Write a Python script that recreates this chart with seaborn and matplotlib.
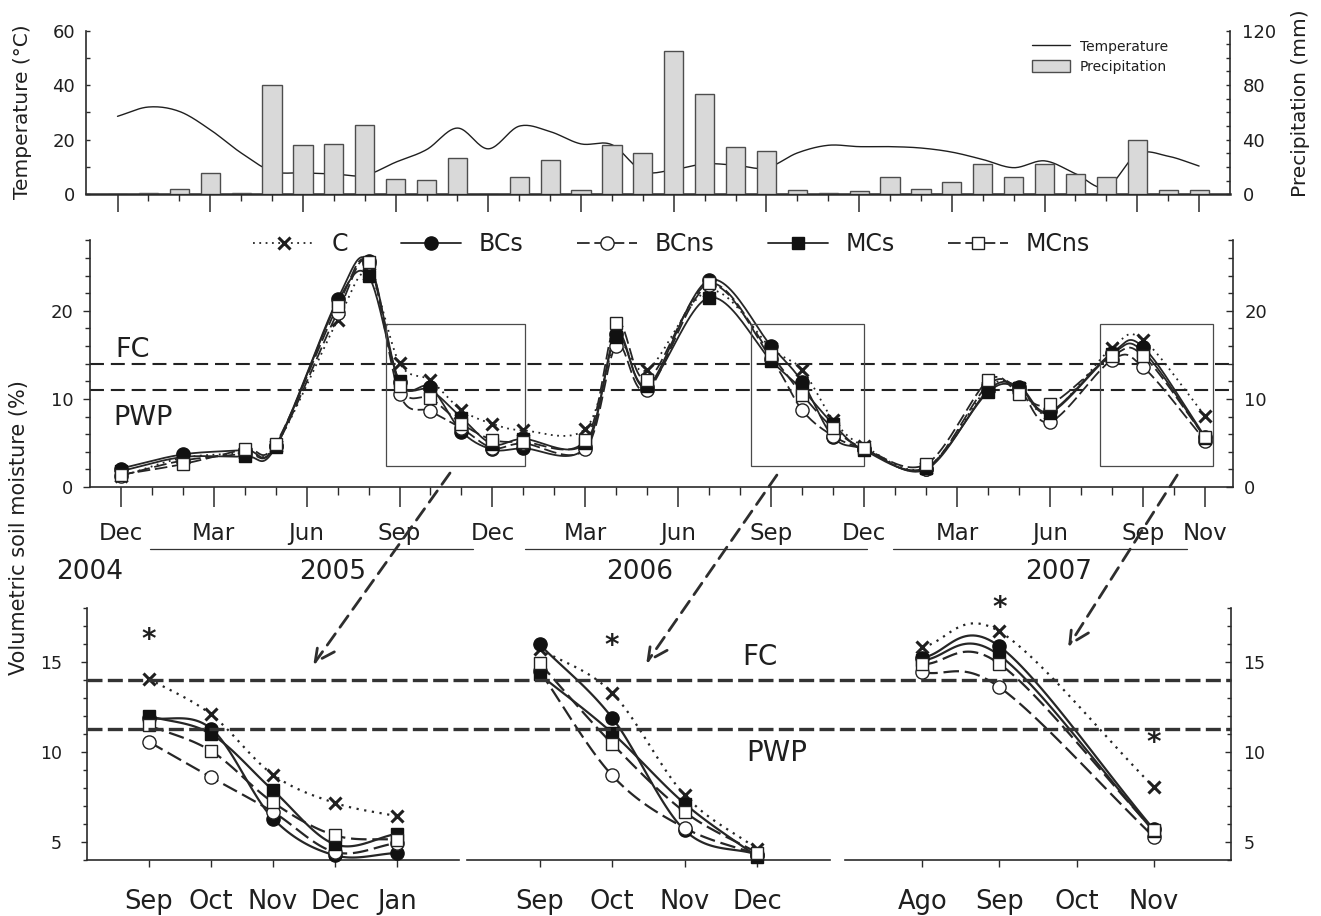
import numpy as np
import matplotlib
matplotlib.use("Agg")
import matplotlib.pyplot as plt
import seaborn as sns
from matplotlib.lines import Line2D
from matplotlib.patches import Patch, Rectangle, ConnectionPatch
from matplotlib.transforms import blended_transform_factory
from matplotlib.ticker import FixedLocator, MultipleLocator, NullFormatter

# ---------------- climate, monthly (month 0 = December 2004) ----------------
clim_month = np.arange(36)
temperature = [28.6, 32.0, 30.4, 23.7, 15.2, 8.5, 7.9, 7.5, 7.0, 11.8, 16.4, 24.3,
               16.7, 25.0, 23.0, 18.5, 18.2, 8.5, 9.1, 11.2, 10.7, 9.7, 15.2, 18.0,
               17.5, 17.5, 17.0, 15.5, 12.8, 9.8, 12.3, 7.6, 2.6, 14.8, 14.0, 10.4]
precipitation = [0, 1, 4, 16, 1, 80, 36.5, 37, 50.5, 11.5, 10.5, 26.5,
                 0, 12.5, 25, 3.5, 36, 30.5, 105, 73.5, 35, 31.5, 3, 1,
                 2.5, 12.5, 4, 9, 22.5, 12.5, 22, 15, 12.5, 40, 3.5, 3]

# ---------------- soil moisture sampling (month 0 = December 2004) ----------------
sample_month = [0, 2, 4, 5, 7, 8, 9, 10, 11, 12, 13, 15, 16, 17, 19,
                21, 22, 23, 24, 26, 28, 29, 30, 32, 33, 35]
moist_C    = [1.2, 3.3, 3.9, 4.7, 18.9, 24.2, 14.07, 12.09, 8.74, 7.17, 6.43, 6.6, 16.3, 13.3, 22.3,
              15.74, 13.28, 7.6, 4.6, 2.2, 11.3, 11.2, 8.4, 15.83, 16.7, 8.05]
moist_BCs  = [2.1, 3.7, 4.2, 4.7, 21.3, 25.6, 11.9, 11.3, 6.3, 4.26, 4.39, 4.5, 17.4, 11.4, 23.5,
              15.98, 11.9, 5.65, 4.3, 2.0, 11.0, 11.4, 8.6, 15.24, 15.87, 5.7]
moist_BCns = [1.3, 3.0, 3.8, 4.6, 19.8, 25.4, 10.56, 8.6, 6.67, 4.44, 4.95, 4.3, 16.0, 11.0, 22.9,
              14.5, 8.7, 5.78, 4.3, 2.1, 11.6, 11.0, 7.4, 14.44, 13.6, 5.28]
moist_MCs  = [1.8, 3.4, 3.5, 4.5, 21.0, 23.9, 12.0, 11.0, 7.87, 4.87, 5.46, 5.0, 17.0, 11.5, 21.5,
              14.31, 11.06, 7.13, 4.17, 2.2, 10.8, 11.2, 8.45, 15.1, 15.37, 5.6]
moist_MCns = [1.4, 2.6, 4.3, 4.9, 20.5, 25.5, 11.48, 10.06, 7.2, 5.37, 5.13, 5.3, 18.6, 12.2, 23.1,
              14.94, 10.46, 6.67, 4.39, 2.6, 12.1, 10.6, 9.4, 14.87, 14.9, 5.65]

series_names = ["C", "BCs", "BCns", "MCs", "MCns"]
series_values = [moist_C, moist_BCs, moist_BCns, moist_MCs, moist_MCns]

major_months = [0, 3, 6, 9, 12, 15, 18, 21, 24, 27, 30, 33, 35]
major_labels = ["Dec", "Mar", "Jun", "Sep", "Dec", "Mar", "Jun", "Sep", "Dec", "Mar", "Jun", "Sep", "Nov"]
year_labels = ["2004", "2005", "2006", "2007"]

field_capacity = 14.0
wilting_point_overview = 11.0
wilting_point_detail = 11.3

# detail windows: first sampled month and month labels
window_start = [9, 21, 32]
window_labels = [["Sep", "Oct", "Nov", "Dec", "Jan"],
                 ["Sep", "Oct", "Nov", "Dec"],
                 ["Ago", "Sep", "Oct", "Nov"]]
# significance marks: (window, month offset, height)
signif_marks = [(0, 0, 16.2), (1, 1, 15.9), (2, 1, 18.0), (2, 3, 10.5)]

INK = "#1f1f1f"
LINE = "#262626"

styles = {
    "C":    dict(ls=(0, (1, 2.5)), marker="x", mfc=INK, mec=INK, ms=8.5, mew=2.2),
    "BCs":  dict(ls="-", marker="o", mfc="#111111", mec="#111111", ms=9.5, mew=1.0),
    "BCns": dict(ls=(0, (7, 2.6)), marker="o", mfc="white", mec="#222222", ms=9.5, mew=1.0),
    "MCs":  dict(ls="-", marker="s", mfc="#111111", mec="#111111", ms=8.5, mew=1.0),
    "MCns": dict(ls=(0, (7, 2.6)), marker="s", mfc="white", mec="#222222", ms=8.5, mew=1.0),
}


def smooth_curve(x, y, per=24):
    """Sample a Catmull-Rom curve through the points (x, y) for a smooth line."""
    P = np.column_stack([np.asarray(x, float), np.asarray(y, float)])
    n = len(P)
    T = np.zeros_like(P)
    T[0] = P[1] - P[0]
    T[-1] = P[-1] - P[-2]
    if n > 2:
        T[1:-1] = (P[2:] - P[:-2]) / 2.0
    parts = []
    for i in range(n - 1):
        t = np.linspace(0, 1, per, endpoint=(i == n - 2))[:, None]
        h00 = 2 * t ** 3 - 3 * t ** 2 + 1
        h10 = t ** 3 - 2 * t ** 2 + t
        h01 = -2 * t ** 3 + 3 * t ** 2
        h11 = t ** 3 - t ** 2
        parts.append(h00 * P[i] + h10 * T[i] + h01 * P[i + 1] + h11 * T[i + 1])
    C = np.vstack(parts)
    return C[:, 0], C[:, 1]


sns.set_style("ticks")
plt.rcParams.update({
    "font.family": ["DejaVu Sans"],
    "axes.edgecolor": "#2b2b2b",
    "axes.linewidth": 1.2,
    "xtick.color": "#2b2b2b",
    "ytick.color": "#2b2b2b",
    "xtick.labelcolor": INK,
    "ytick.labelcolor": INK,
    "text.color": INK,
})

fig = plt.figure(figsize=(13.21, 9.16), dpi=100)

# ======================= climate panel =======================
ax_t = fig.add_axes([0.0651, 0.7877, 0.8660, 0.1790])
ax_p = ax_t.twinx()

tx, ty = smooth_curve(clim_month, temperature, 20)
sns.lineplot(x=tx, y=ty, ax=ax_t, color=INK, lw=1.0, sort=False, estimator=None)
sns.barplot(x=clim_month, y=precipitation, native_scale=True, width=0.62, color="#d9d9d9",
            saturation=1, edgecolor="#4d4d4d", linewidth=1.0, errorbar=None, ax=ax_p)

for a in (ax_t, ax_p):
    a.set_xlim(-1.02, 36.0)
    a.set_xlabel("")
    a.set_ylabel("")
ax_t.set_ylim(0, 60)
ax_p.set_ylim(0, 120)
ax_t.yaxis.set_major_locator(FixedLocator([0, 20, 40, 60]))
ax_t.yaxis.set_minor_locator(MultipleLocator(10))
ax_p.yaxis.set_major_locator(FixedLocator([0, 40, 80, 120]))
ax_p.yaxis.set_minor_locator(MultipleLocator(10))
ax_t.xaxis.set_major_locator(FixedLocator(major_months))
ax_t.xaxis.set_minor_locator(FixedLocator([m for m in range(36) if m not in major_months]))
ax_t.xaxis.set_major_formatter(NullFormatter())
ax_t.tick_params(axis="x", which="major", direction="out", length=13, width=1.1)
ax_t.tick_params(axis="x", which="minor", direction="out", length=5, width=1.0)
ax_t.tick_params(axis="y", which="both", direction="in", length=3, width=1.0, labelsize=13, pad=8)
ax_p.tick_params(axis="y", which="both", direction="in", length=3, width=1.0, labelsize=13, pad=9)
ax_t.spines["top"].set_visible(False)
ax_t.spines["right"].set_visible(False)
for s in ("top", "left", "bottom"):
    ax_p.spines[s].set_visible(False)
ax_t.spines["bottom"].set_linewidth(1.8)

fig.text(22 / 1321, 1 - 112 / 916, "Temperature (°C)", rotation=90, ha="center", va="center", fontsize=14.5)
fig.text(1301 / 1321, 1 - 103 / 916, "Precipitation (mm)", rotation=90, ha="center", va="center", fontsize=14.5)

clim_handles = [Line2D([], [], color=INK, lw=1.0),
                Patch(facecolor="#d9d9d9", edgecolor="#4d4d4d", linewidth=1.0)]
fig.legend(clim_handles, ["Temperature", "Precipitation"], loc="upper left",
           bbox_to_anchor=(0.7813, 0.9567), frameon=False, fontsize=10,
           handlelength=2.75, handleheight=0.9, handletextpad=0.7, labelspacing=0.45,
           borderpad=0, borderaxespad=0)

# ======================= soil moisture overview =======================
ax_m = fig.add_axes([0.0681, 0.4683, 0.8653, 0.2694])
ax_mr = ax_m.twinx()

for name, vals in zip(series_names, series_values):
    st = styles[name]
    xs, ys = smooth_curve(sample_month, vals, 24)
    sns.lineplot(x=xs, y=ys, ax=ax_m, color=LINE, lw=1.3, linestyle=st["ls"],
                 sort=False, estimator=None)
for name, vals in zip(series_names, series_values):
    st = styles[name]
    ax_m.plot(sample_month, vals, ls="none", marker=st["marker"], ms=st["ms"],
              mfc=st["mfc"], mec=st["mec"], mew=st["mew"], zorder=4)

ax_m.axhline(field_capacity, color="#222222", lw=1.5, ls=(0, (6.7, 3.3)), zorder=1)
ax_m.axhline(wilting_point_overview, color="#222222", lw=1.5, ls=(0, (6.7, 3.3)), zorder=1)
ax_m.text(-0.18, 15.6, "FC", ha="left", va="center", fontsize=19.5)
ax_m.text(-0.25, 7.8, "PWP", ha="left", va="center", fontsize=19.5)

# windows shown in detail below
for x0, x1 in [(8.555, 13.05), (20.35, 23.99), (31.61, 35.25)]:
    ax_m.add_patch(Rectangle((x0, 2.4), x1 - x0, 16.05, fill=False, lw=0.9, ec="#4a4a4a", zorder=2))

for a in (ax_m, ax_mr):
    a.set_xlim(-0.99, 35.9)
    a.set_ylim(0, 28)
    a.set_xlabel("")
    a.set_ylabel("")
    a.yaxis.set_major_locator(FixedLocator([0, 10, 20]))
    a.yaxis.set_minor_locator(MultipleLocator(2))
ax_m.xaxis.set_major_locator(FixedLocator(major_months))
ax_m.xaxis.set_major_formatter(plt.FixedFormatter(major_labels))
ax_m.xaxis.set_minor_locator(FixedLocator([m for m in range(36) if m not in major_months]))
ax_m.tick_params(axis="x", which="major", direction="out", length=14.4, width=1.1, labelsize=16.5, pad=10.5)
ax_m.tick_params(axis="x", which="minor", direction="out", length=5.8, width=1.0)
ax_m.tick_params(axis="y", which="major", direction="out", length=5, width=1.0, labelsize=13, pad=7)
ax_m.tick_params(axis="y", which="minor", direction="out", length=3.5, width=1.0)
ax_mr.tick_params(axis="y", which="major", direction="in", length=5, width=1.0, labelsize=13, pad=8)
ax_mr.tick_params(axis="y", which="minor", direction="in", length=3.5, width=1.0)
ax_m.spines["top"].set_visible(False)
ax_m.spines["right"].set_visible(False)
for s in ("top", "left", "bottom"):
    ax_mr.spines[s].set_visible(False)

legend_handles = []
for name in series_names:
    st = styles[name]
    legend_handles.append(Line2D([], [], color=LINE, lw=1.3, ls=st["ls"], marker=st["marker"],
                                 ms=st["ms"], mfc=st["mfc"], mec=st["mec"], mew=st["mew"]))
ax_m.legend(legend_handles, series_names, loc="center", bbox_to_anchor=(0.509, 0.985),
            ncol=5, frameon=False, fontsize=17, handlelength=2.55, handletextpad=0.75,
            columnspacing=2.25, borderpad=0, numpoints=1)

# year brackets under the month labels
yr = blended_transform_factory(ax_m.transData, fig.transFigure)
for x0, x1 in [(0.95, 11.37), (13.05, 24.09), (24.93, 34.42)]:
    ax_m.add_line(Line2D([x0, x1], [0.4007, 0.4007], transform=yr, color="#333333", lw=0.9, clip_on=False))
for xm, lab in zip([-1.0, 6.84, 16.76, 30.27], year_labels):
    ax_m.text(xm, 0.3755, lab, transform=yr, ha="center", va="center", fontsize=19, clip_on=False)

fig.text(19 / 1321, 1 - 528 / 916, "Volumetric soil moisture (%)", rotation=90,
         ha="center", va="center", fontsize=15)

# ======================= detail windows =======================
positions = [[0.0659, 0.0611, 0.2816, 0.2751],
             [0.3535, 0.0611, 0.2748, 0.2751],
             [0.6397, 0.0611, 0.2922, 0.2751]]
detail_axes = []
sm = np.asarray(sample_month)
for w, (pos, start, labels) in enumerate(zip(positions, window_start, window_labels)):
    ax = fig.add_axes(pos)
    detail_axes.append(ax)
    end = start + len(labels) - 1
    sel = (sm >= start) & (sm <= end)
    xm = sm[sel] - start
    for name, vals in zip(series_names, series_values):
        st = styles[name]
        yv = np.asarray(vals)[sel]
        xs, ys = smooth_curve(xm, yv, 30)
        sns.lineplot(x=xs, y=ys, ax=ax, color=LINE, lw=1.6, linestyle=st["ls"],
                     sort=False, estimator=None)
    for name, vals in zip(series_names, series_values):
        st = styles[name]
        yv = np.asarray(vals)[sel]
        ax.plot(xm, yv, ls="none", marker=st["marker"], ms=st["ms"], mfc=st["mfc"],
                mec=st["mec"], mew=st["mew"], zorder=4, clip_on=False)
    ax.set_xlim(-1, len(labels))
    ax.set_ylim(4, 18)
    ax.set_xlabel("")
    ax.set_ylabel("")
    ax.xaxis.set_major_locator(FixedLocator(list(range(len(labels)))))
    ax.xaxis.set_major_formatter(plt.FixedFormatter(labels))
    ax.tick_params(axis="x", direction="out", length=5, width=1.0, labelsize=18.5, pad=16)
    ax.yaxis.set_major_locator(FixedLocator([5, 10, 15]))
    ax.yaxis.set_minor_locator(MultipleLocator(1))
    ax.spines["top"].set_visible(False)
    if w == 0:
        ax.spines["right"].set_visible(False)
        ax.tick_params(axis="y", which="major", direction="out", length=4, width=1.0, labelsize=12.5, pad=14)
        ax.tick_params(axis="y", which="minor", direction="out", length=3, width=1.0)
    elif w == 1:
        ax.spines["right"].set_visible(False)
        ax.spines["left"].set_visible(False)
        ax.tick_params(axis="y", which="both", left=False, labelleft=False)
    else:
        ax.spines["left"].set_visible(False)
        ax.yaxis.tick_right()
        ax.tick_params(axis="y", which="major", direction="in", length=4, width=1.0, labelsize=12.5, pad=9)
        ax.tick_params(axis="y", which="minor", direction="in", length=3, width=1.0)
    ax.patch.set_alpha(0)

for w, xo, yv in signif_marks:
    detail_axes[w].text(xo, yv, "*", ha="center", va="center", fontsize=20, fontweight="bold", clip_on=False)

detail_axes[1].text(3.03, 15.3, "FC", ha="center", va="center", fontsize=20)
detail_axes[1].text(3.27, 9.93, "PWP", ha="center", va="center", fontsize=20)

# FC / PWP reference lines running across all three windows
x_left = positions[0][0]
x_right = positions[2][0] + positions[2][2]
ref_tr = blended_transform_factory(fig.transFigure, detail_axes[0].transData)
for yv in (field_capacity, wilting_point_detail):
    fig.add_artist(Line2D([x_left, x_right], [yv, yv], transform=ref_tr, color="#333333",
                          lw=2.4, ls=(0, (4.5, 1.6)), zorder=1))

# arrows from the overview boxes to the detail windows
for (xa, ya), ax_d, (xb, yb) in [((10.63, 1.59), detail_axes[0], (2.65, 14.86)),
                                  ((21.18, 1.36), detail_axes[1], (1.47, 14.93)),
                                  ((34.10, 1.36), detail_axes[2], (1.89, 15.85))]:
    con = ConnectionPatch(xyA=(xa, ya), coordsA=ax_m.transData, xyB=(xb, yb), coordsB=ax_d.transData,
                          arrowstyle="->,head_length=0.7,head_width=0.35", mutation_scale=20,
                          color="#2e2e2e", lw=2.0, linestyle=(0, (5, 2.9)), zorder=6)
    fig.add_artist(con)

fig.savefig("out.png", dpi=100)
